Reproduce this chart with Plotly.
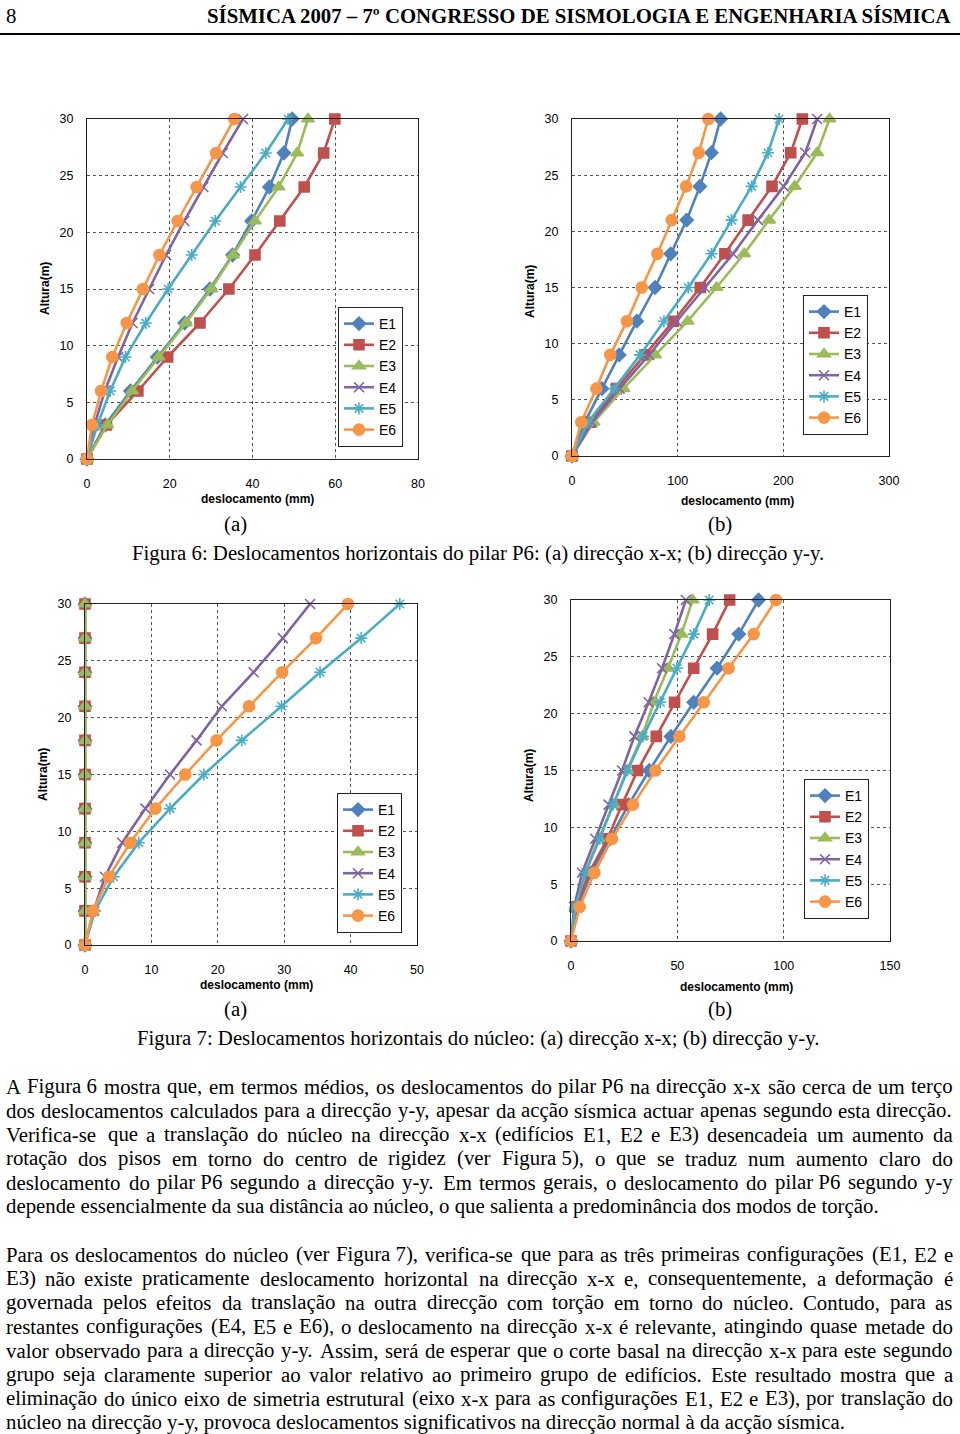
import unicodedata
import plotly.graph_objects as go

W, H = 960, 1434

# ---------------- data ----------------
heights = [0, 3, 6, 9, 12, 15, 18, 21, 24, 27, 30]
series_names = ["E1", "E2", "E3", "E4", "E5", "E6"]

# Figura 6 (a) - pilar P6, direcção x-x
f6a_E1 = [0, 4.4, 10.5, 17.0, 23.6, 29.7, 35.2, 39.8, 44.1, 47.6, 49.6]
f6a_E2 = [0, 4.7, 12.3, 19.5, 27.3, 34.3, 40.6, 46.6, 52.5, 57.2, 59.9]
f6a_E3 = [0, 4.9, 10.9, 17.3, 23.9, 30.0, 35.3, 40.6, 46.3, 50.8, 53.4]
f6a_E4 = [0, 1.8, 4.3, 7.5, 11.0, 15.0, 19.1, 23.5, 28.1, 32.8, 37.7]
f6a_E5 = [0, 2.5, 5.6, 9.3, 14.2, 19.6, 25.3, 31.0, 37.1, 43.2, 48.6]
f6a_E6 = [0, 1.2, 3.4, 6.1, 9.6, 13.5, 17.5, 21.9, 26.5, 31.2, 35.6]

# Figura 6 (b) - pilar P6, direcção y-y
f6b_E1 = [0, 12.0, 28.3, 44.7, 61.3, 78.6, 93.4, 108.5, 121.0, 132.0, 140.6]
f6b_E2 = [0, 17.0, 42.0, 69.0, 96.0, 121.4, 144.7, 166.7, 189.3, 207.0, 218.0]
f6b_E3 = [0, 20.4, 48.7, 78.6, 109.4, 136.8, 162.9, 186.5, 210.7, 232.0, 243.7]
f6b_E4 = [0, 19.0, 45.0, 73.0, 99.0, 125.8, 152.5, 176.0, 200.3, 220.8, 232.0]
f6b_E5 = [0, 15.0, 40.0, 64.5, 87.0, 110.0, 132.0, 151.0, 170.0, 185.5, 196.0]
f6b_E6 = [0, 8.8, 23.0, 36.2, 52.0, 66.0, 80.8, 94.3, 108.0, 120.0, 129.0]

# Figura 7 (a) - núcleo, direcção x-x
f7a_E1 = [0, 0, 0, 0, 0, 0, 0, 0, 0, 0, 0]
f7a_E2 = [0, 0, 0, 0, 0, 0, 0, 0, 0, 0, 0]
f7a_E3 = [0, 0, 0, 0, 0, 0, 0, 0, 0, 0, 0]
f7a_E4 = [0, 1.3, 3.0, 5.6, 9.1, 12.8, 16.8, 20.6, 25.4, 29.8, 33.9]
f7a_E5 = [0, 1.5, 4.3, 8.1, 12.8, 17.9, 23.6, 29.6, 35.4, 41.6, 47.4]
f7a_E6 = [0, 1.2, 3.6, 6.8, 10.6, 15.1, 19.8, 24.7, 29.7, 34.8, 39.6]

# Figura 7 (b) - núcleo, direcção y-y
f7b_E1 = [0, 3.0, 9.5, 18.5, 27.1, 36.8, 47.0, 57.7, 68.7, 78.9, 88.2]
f7b_E2 = [0, 2.5, 8.5, 17.2, 24.0, 31.3, 40.1, 48.7, 57.7, 66.6, 74.6]
f7b_E3 = [0, 2.0, 6.5, 13.0, 20.0, 26.3, 33.4, 38.9, 45.6, 51.9, 57.2]
f7b_E4 = [0, 1.5, 5.2, 11.4, 17.7, 24.0, 29.8, 36.5, 42.8, 48.6, 54.0]
f7b_E5 = [0, 2.0, 6.8, 13.5, 19.8, 26.6, 33.9, 42.0, 49.8, 57.7, 65.0]
f7b_E6 = [0, 4.1, 11.0, 19.3, 29.2, 39.7, 51.0, 62.4, 74.1, 85.9, 96.4]

x_ticks_6a = [0, 20, 40, 60, 80]
x_ticks_6b = [0, 100, 200, 300]
x_ticks_7a = [0, 10, 20, 30, 40, 50]
x_ticks_7b = [0, 50, 100, 150]
y_ticks = [0, 5, 10, 15, 20, 25, 30]

header_num = "8"
header_title = "SÍSMICA 2007 – 7º CONGRESSO DE SISMOLOGIA E ENGENHARIA SÍSMICA"
caption6 = "Figura 6: Deslocamentos horizontais do pilar P6: (a) direcção x-x; (b) direcção y-y."
caption7 = "Figura 7: Deslocamentos horizontais do núcleo: (a) direcção x-x; (b) direcção y-y."
x_title = "deslocamento (mm)"
y_title = "Altura(m)"

NB = "\u00a0"
para1 = [
    "A Figura" + NB + "6 mostra que, em termos médios, os deslocamentos do pilar" + NB + "P6 na direcção x-x são cerca de um terço",
    "dos deslocamentos calculados para a direcção y-y, apesar da acção sísmica actuar apenas segundo esta direcção.",
    "Verifica-se que a translação do núcleo na direcção x-x (edifícios E1, E2 e E3) desencadeia um aumento da",
    "rotação dos pisos em torno do centro de rigidez (ver Figura" + NB + "5), o que se traduz num aumento claro do",
    "deslocamento do pilar" + NB + "P6 segundo a direcção y-y. Em termos gerais, o deslocamento do pilar" + NB + "P6 segundo y-y",
    "depende essencialmente da sua distância ao núcleo, o que salienta a predominância dos modos de torção.",
]
para2 = [
    "Para os deslocamentos do núcleo (ver Figura" + NB + "7), verifica-se que para as três primeiras configurações (E1, E2 e",
    "E3) não existe praticamente deslocamento horizontal na direcção x-x e, consequentemente, a deformação é",
    "governada pelos efeitos da translação na outra direcção com torção em torno do núcleo. Contudo, para as",
    "restantes configurações (E4, E5 e E6), o deslocamento na direcção x-x é relevante, atingindo quase metade do",
    "valor observado para a direcção y-y. Assim, será de esperar que o corte basal na direcção x-x para este segundo",
    "grupo seja claramente superior ao valor relativo ao primeiro grupo de edifícios. Este resultado mostra que a",
    "eliminação do único eixo de simetria estrutural (eixo x-x para as configurações E1, E2 e E3), por translação do",
    "núcleo na direcção y-y, provoca deslocamentos significativos na direcção normal à da acção sísmica.",
]

# ---------------- styling ----------------
colors = ["#4F81BD", "#C0504D", "#9BBB59", "#8064A2", "#4BACC6", "#F79646"]
symbols = ["diamond", "square", "triangle-up", "x-thin-open", "asterisk-open", "circle"]
msizes = [10, 10, 11, 10, 10, 11]

def px(x):
    return x / W

def py(y):
    return 1 - y / H

panels = [
    dict(data=[f6a_E1, f6a_E2, f6a_E3, f6a_E4, f6a_E5, f6a_E6], xt=x_ticks_6a,
         box=(87, 418, 119, 459), leg=(338, 307), xtl=(257, 499), ytl=(45, 289)),
    dict(data=[f6b_E1, f6b_E2, f6b_E3, f6b_E4, f6b_E5, f6b_E6], xt=x_ticks_6b,
         box=(572, 889, 119, 456), leg=(803, 295), xtl=(737, 501), ytl=(530, 292)),
    dict(data=[f7a_E1, f7a_E2, f7a_E3, f7a_E4, f7a_E5, f7a_E6], xt=x_ticks_7a,
         box=(85, 417, 604, 945), leg=(337, 793), xtl=(256, 985), ytl=(43, 775)),
    dict(data=[f7b_E1, f7b_E2, f7b_E3, f7b_E4, f7b_E5, f7b_E6], xt=x_ticks_7b,
         box=(571, 890, 600, 941), leg=(804, 779), xtl=(736, 987), ytl=(529, 776)),
]

fig = go.Figure()
annotations = []
layout_axes = {}

for i, p in enumerate(panels):
    n = "" if i == 0 else str(i + 1)
    lg = "legend" if i == 0 else "legend" + str(i + 1)
    for k in range(6):
        fig.add_trace(go.Scatter(
            x=p["data"][k], y=heights, mode="lines+markers", name=series_names[k],
            xaxis="x" + n, yaxis="y" + n, legend=lg, cliponaxis=False,
            line=dict(color=colors[k], width=2.6),
            marker=dict(symbol=symbols[k], size=msizes[k], color=colors[k],
                        line=dict(color=colors[k], width=1.6)),
        ))
    x0, x1, yt, yb = p["box"]
    common = dict(showline=True, mirror=True, linecolor="#222222", linewidth=1.2,
                  showgrid=True, gridcolor="#555555", griddash="dot", gridwidth=1,
                  zeroline=False, ticks="", tickfont=dict(family="Liberation Sans", size=12.5, color="black"))
    layout_axes["xaxis" + n] = dict(common, domain=[px(x0), px(x1)], anchor="y" + n,
                                    range=[0, p["xt"][-1]], tickvals=p["xt"], ticklabelstandoff=13)
    layout_axes["yaxis" + n] = dict(common, domain=[py(yb), py(yt)], anchor="x" + n,
                                    range=[0, 30], tickvals=y_ticks, ticklabelstandoff=10)
    lx, ly = p["leg"]
    layout_axes[lg] = dict(x=px(lx), y=py(ly), xanchor="left", yanchor="top",
                           bgcolor="white", bordercolor="#222222", borderwidth=1,
                           font=dict(family="Liberation Sans", size=14, color="black"),
                           itemwidth=30, tracegroupgap=0)
    annotations.append(dict(x=px(p["xtl"][0]), y=py(p["xtl"][1]), xref="paper", yref="paper",
                            text="<b>" + x_title + "</b>", showarrow=False, xanchor="center", yanchor="middle",
                            font=dict(family="Liberation Sans", size=12, color="black")))
    annotations.append(dict(x=px(p["ytl"][0]), y=py(p["ytl"][1]), xref="paper", yref="paper",
                            text="<b>" + y_title + "</b>", showarrow=False, xanchor="center", yanchor="middle",
                            textangle=-90, font=dict(family="Liberation Sans", size=12, color="black")))

# ---------------- page text ----------------
SERIF = "Liberation Serif"
FS = 20.8
TW = {' ': 250, '\u00a0': 250, ',': 250, '.': 250, ';': 278, ':': 278, '(': 333, ')': 333, '-': 333,
      'A': 722, 'B': 667, 'C': 667, 'D': 722, 'E': 611, 'F': 556, 'G': 722, 'H': 722, 'I': 333,
      'J': 389, 'K': 722, 'L': 611, 'M': 889, 'N': 722, 'O': 722, 'P': 556, 'Q': 722, 'R': 667,
      'S': 556, 'T': 611, 'U': 722, 'V': 722, 'W': 944, 'X': 722, 'Y': 722, 'Z': 611,
      'a': 444, 'b': 500, 'c': 444, 'd': 500, 'e': 444, 'f': 333, 'g': 500, 'h': 500, 'i': 278,
      'j': 278, 'k': 500, 'l': 278, 'm': 778, 'n': 500, 'o': 500, 'p': 500, 'q': 500, 'r': 333,
      's': 389, 't': 278, 'u': 500, 'v': 500, 'w': 722, 'x': 500, 'y': 500, 'z': 444}

def cw(ch):
    if ch in TW:
        return TW[ch]
    if ch.isdigit():
        return 500
    base = unicodedata.normalize("NFD", ch)[0]
    return TW.get(base, 500)

def tw(s):
    return sum(cw(c) for c in s) * FS / 1000.0 * 1.012

LEFT, RIGHT = 5, 952

def serif_text(x, y, s, anchor="left", size=FS, bold=False):
    annotations.append(dict(x=px(x), y=py(y), xref="paper", yref="paper",
                            text=("<b>" + s + "</b>") if bold else s, showarrow=False,
                            xanchor=anchor, yanchor="middle", borderpad=0,
                            font=dict(family=SERIF, size=size, color="black")))

def add_para(lines, y0):
    for li, line in enumerate(lines):
        y = y0 + 24 * li
        if li == len(lines) - 1:
            serif_text(LEFT, y, line)
            continue
        words = line.split(" ")
        widths = [tw(w) for w in words]
        gap = (RIGHT - LEFT - sum(widths)) / (len(words) - 1)
        x = LEFT
        for w, wd in zip(words, widths):
            serif_text(x, y, w)
            x += wd + gap

add_para(para1, 1086)
add_para(para2, 1254)

serif_text(5, 15, header_num)
serif_text(952, 15, header_title, anchor="right", bold=True)
serif_text(235, 524, "(a)", anchor="center")
serif_text(720, 524, "(b)", anchor="center")
serif_text(478, 553, caption6, anchor="center")
serif_text(235, 1009, "(a)", anchor="center")
serif_text(720, 1009, "(b)", anchor="center")
serif_text(478, 1038, caption7, anchor="center")

fig.update_layout(
    width=W, height=H, margin=dict(l=0, r=0, t=0, b=0, autoexpand=False),
    paper_bgcolor="white", plot_bgcolor="white",
    annotations=annotations,
    shapes=[dict(type="line", xref="paper", yref="paper", x0=0, x1=1, y0=py(34), y1=py(34),
                 line=dict(color="black", width=2))],
    **layout_axes,
)

fig.write_html("out.html", config={"displayModeBar": False},
               post_script="document.documentElement.style.margin='0';document.documentElement.style.overflow='hidden';"
                           "document.body.style.margin='0';document.body.style.padding='0';"
                           "document.body.style.overflow='hidden';")
